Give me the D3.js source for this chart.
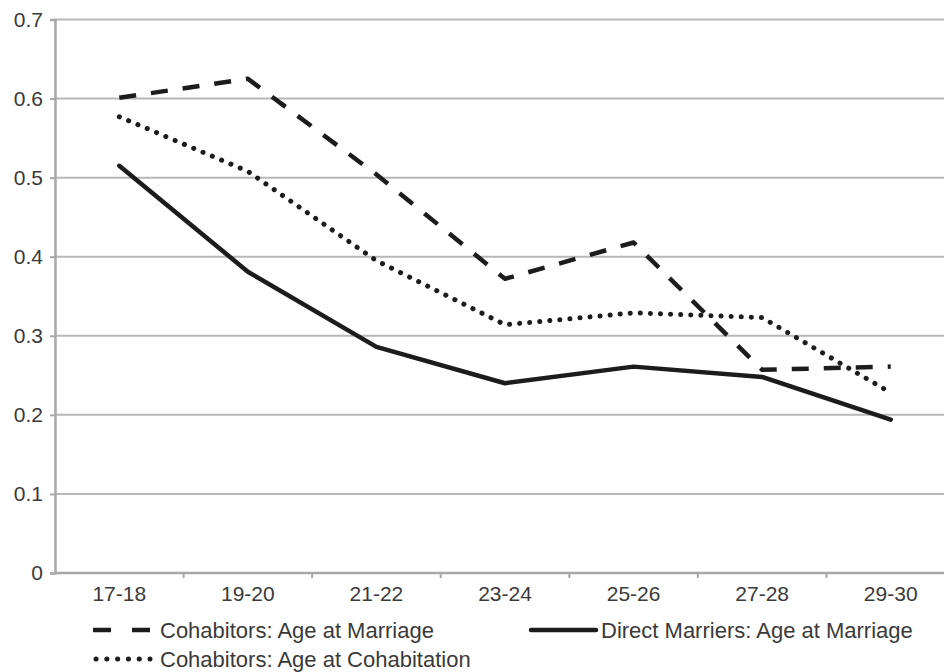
<!DOCTYPE html>
<html><head><meta charset="utf-8">
<script src="https://cdn.jsdelivr.net/npm/d3@7"></script>
<style>body{margin:0;background:#fff}svg{display:block}</style>
</head><body>
<script>
const categories = ["17-18","19-20","21-22","23-24","25-26","27-28","29-30"];
const cohabMarriage = [0.601,0.625,0.504,0.372,0.418,0.257,0.261];
const directMarriage = [0.515,0.381,0.286,0.240,0.261,0.248,0.194];
const cohabCohabitation = [0.577,0.508,0.395,0.314,0.329,0.323,0.228];
const yTicks = [0,0.1,0.2,0.3,0.4,0.5,0.6,0.7];
const seriesNames = ["Cohabitors: Age at Marriage","Direct Marriers: Age at Marriage","Cohabitors: Age at Cohabitation"];

(function(){
const W=944,H=672;
const svg=d3.select("body").append("svg").attr("width",W).attr("height",H)
  .style("font-family","'Liberation Sans', Arial, sans-serif");
const mL=55, mR=955, mT=19.5, mB=573;
const x=d3.scaleBand().domain(categories).range([mL,mR]);
const y=d3.scaleLinear().domain([0,0.7]).range([mB,mT]);

svg.append("g").selectAll("line").data(yTicks.filter(d=>d>0)).join("line")
  .attr("x1",mL).attr("x2",W).attr("y1",d=>y(d)).attr("y2",d=>y(d))
  .attr("stroke","#b8b8b8").attr("stroke-width",2);

const ya=svg.append("g").attr("transform",`translate(${mL},0)`)
  .call(d3.axisLeft(y).tickValues(yTicks).tickFormat(d=>d===0?"0":d3.format(".1f")(d)).tickSize(5).tickPadding(7));
ya.select(".domain").attr("stroke","#a8a8a8").attr("stroke-width",2.5);
ya.selectAll(".tick line").attr("stroke","#a8a8a8").attr("stroke-width",2);
ya.selectAll(".tick text").attr("fill","#3a3a3a").style("font-size","21px");

const xa=svg.append("g").attr("transform",`translate(0,${mB})`)
  .call(d3.axisBottom(x).tickSize(0).tickPadding(13));
xa.select(".domain").remove();
svg.append("line").attr("x1",mL).attr("x2",W).attr("y1",mB).attr("y2",mB)
  .attr("stroke","#a8a8a8").attr("stroke-width",2.5);
svg.append("g").selectAll("line").data(categories.slice(1)).join("line")
  .attr("x1",d=>x(d)).attr("x2",d=>x(d)).attr("y1",mB).attr("y2",mB+5)
  .attr("stroke","#a8a8a8").attr("stroke-width",2);
xa.selectAll(".tick text").attr("fill","#3a3a3a").style("font-size","21px");

const line=d3.line().x((d,i)=>x(categories[i])+x.bandwidth()/2).y(d=>y(d));
const styles=[
  {data:cohabMarriage, dash:"17,15", cap:"butt", w:4.5},
  {data:directMarriage, dash:null, cap:"round", w:4.5},
  {data:cohabCohabitation, dash:"0.1,10", cap:"round", w:5}
];
styles.forEach(s=>{
  svg.append("path").datum(s.data).attr("d",line).attr("fill","none")
    .attr("stroke","#1c1c1c").attr("stroke-width",s.w)
    .attr("stroke-dasharray",s.dash).attr("stroke-linecap",s.cap).attr("stroke-linejoin","round");
});

const leg=[
  {name:seriesNames[0],x1:93,x2:152,y:630,s:styles[0],dash:"18,21",tx:160},
  {name:seriesNames[1],x1:531,x2:596,y:630,s:styles[1],dash:null,tx:601},
  {name:seriesNames[2],x1:96,x2:150,y:659,s:styles[2],dash:"0.1,10.7",tx:160}
];
leg.forEach(l=>{
  svg.append("line").attr("x1",l.x1).attr("x2",l.x2).attr("y1",l.y).attr("y2",l.y)
    .attr("stroke","#1c1c1c").attr("stroke-width",l.s.w)
    .attr("stroke-dasharray",l.dash).attr("stroke-linecap",l.s.cap);
  svg.append("text").attr("x",l.tx).attr("y",l.y+7.5)
    .attr("fill","#3a3a3a").style("font-size","22px").text(l.name);
});
})();
</script>
</body></html>
